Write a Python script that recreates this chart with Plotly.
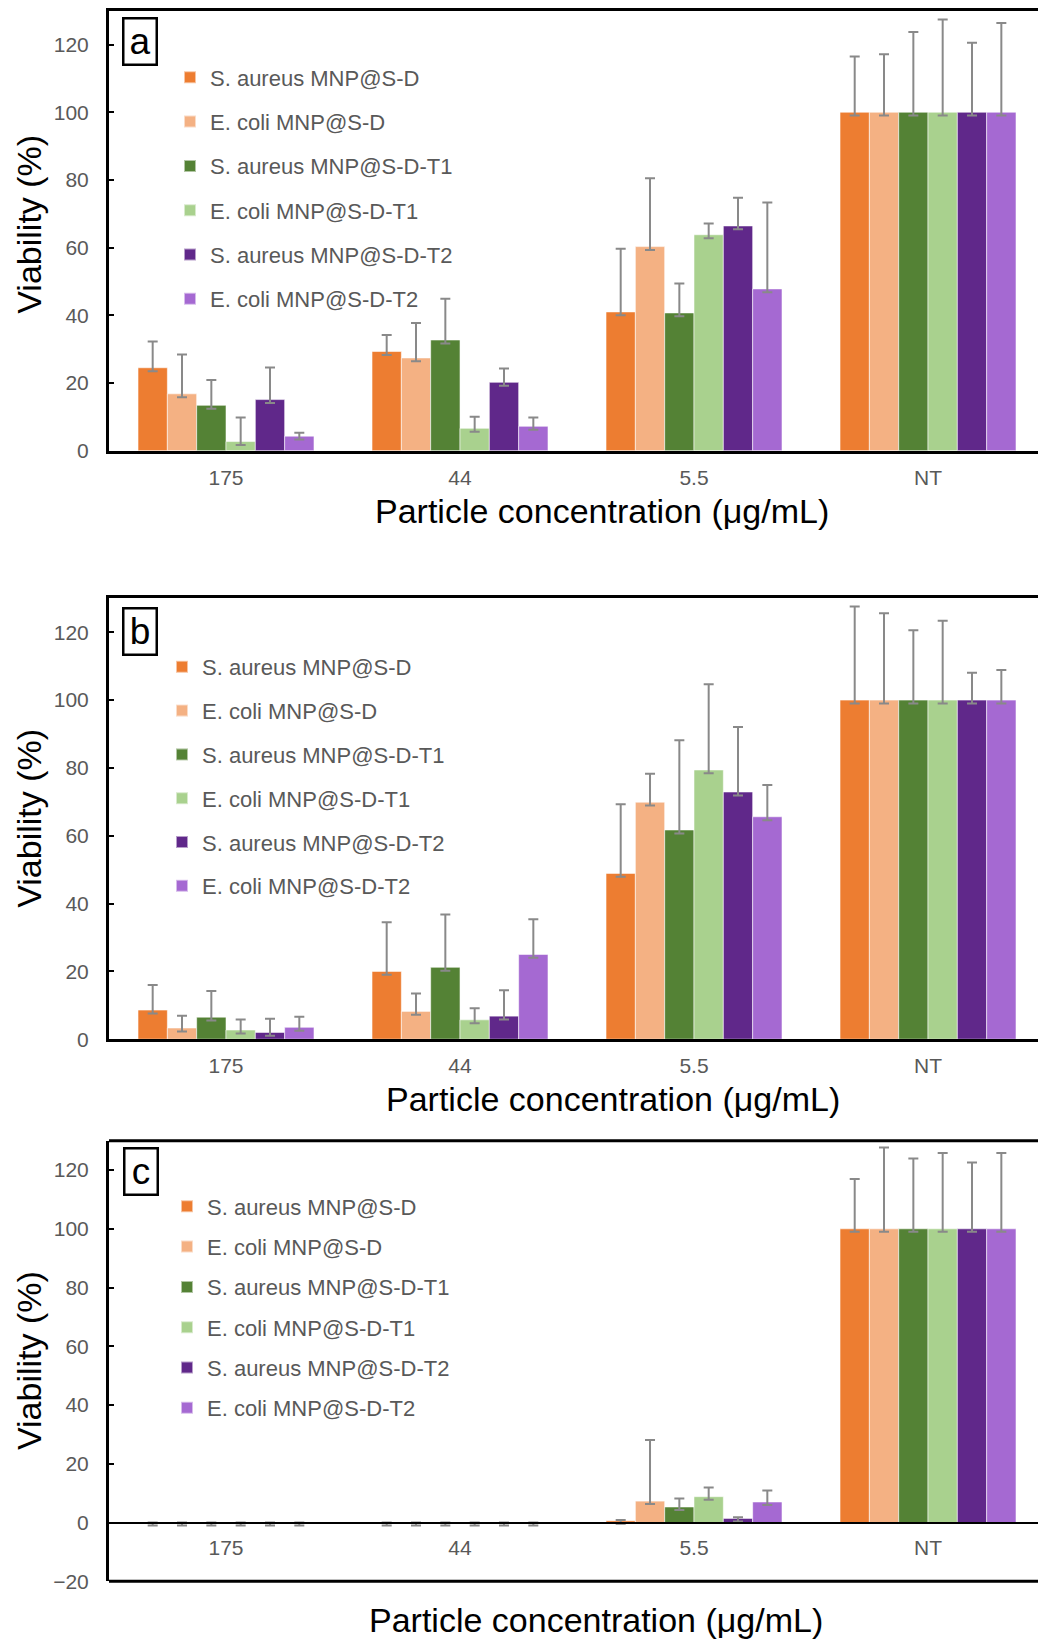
import plotly.graph_objects as go

categories = ["175", "44", "5.5", "NT"]
series_names = ["S. aureus MNP@S-D", "E. coli MNP@S-D", "S. aureus MNP@S-D-T1",
                "E. coli MNP@S-D-T1", "S. aureus MNP@S-D-T2", "E. coli MNP@S-D-T2"]
colors = ["#ED7D31", "#F4B183", "#548235", "#A9D18E", "#60288A", "#A569D2"]

# Panel a
a_values = [
    [24.5, 29.3, 41.0, 100],
    [16.8, 27.4, 60.3, 100],
    [13.4, 32.7, 40.7, 100],
    [2.7, 6.6, 63.8, 100],
    [15.1, 20.2, 66.4, 100],
    [4.3, 7.2, 47.8, 100],
]
a_err_plus = [
    [7.8, 4.9, 18.7, 16.5],
    [11.6, 10.3, 20.2, 17.1],
    [7.5, 12.2, 8.7, 23.7],
    [7.1, 3.4, 3.3, 27.4],
    [9.5, 4.1, 8.3, 20.5],
    [1.0, 2.6, 25.5, 26.4],
]
# Panel b
b_values = [
    [8.6, 20.0, 48.9, 100],
    [3.3, 8.2, 69.9, 100],
    [6.5, 21.2, 61.7, 100],
    [2.7, 5.7, 79.4, 100],
    [2.0, 6.8, 72.9, 100],
    [3.5, 25.0, 65.6, 100],
]
b_err_plus = [
    [7.4, 14.5, 20.4, 27.6],
    [3.6, 5.3, 8.4, 25.6],
    [7.7, 15.6, 26.5, 20.6],
    [3.1, 3.4, 25.3, 23.4],
    [4.0, 7.6, 19.2, 8.1],
    [3.1, 10.4, 9.4, 8.9],
]
# Panel c
c_values = [
    [0, 0, 0.6, 100],
    [0, 0, 7.3, 100],
    [0, 0, 5.3, 100],
    [0, 0, 8.8, 100],
    [0, 0, 1.4, 100],
    [0, 0, 7.0, 100],
]
c_err_plus = [
    [0, 0, 0.3, 17.0],
    [0, 0, 20.8, 27.7],
    [0, 0, 2.9, 23.9],
    [0, 0, 3.1, 25.8],
    [0, 0, 0.4, 22.6],
    [0, 0, 3.9, 25.8],
]
err_minus = [1.0, 1.0, 1.0, 1.0]

yticks_ab = [0, 20, 40, 60, 80, 100, 120]
yticks_c = [-20, 0, 20, 40, 60, 80, 100, 120]
panel_labels = ["a", "b", "c"]
x_title = "Particle concentration (μg/mL)"
y_title = "Viability (%)"

W, H = 1038, 1641
ML = 109
PW = W - ML
FONT = "Arial, Liberation Sans, sans-serif"
TICKC = "#595959"

def py(px):
    return 1 - px / H

def pxp(px):
    return (px - ML) / PW

fig = go.Figure()

panels = [
    (a_values, a_err_plus, "x", "y", "legend"),
    (b_values, b_err_plus, "x2", "y2", "legend2"),
    (c_values, c_err_plus, "x3", "y3", "legend3"),
]
for vals, errs, xa, ya, lg in panels:
    for i, name in enumerate(series_names):
        fig.add_trace(go.Bar(
            x=categories, y=vals[i], name=name, xaxis=xa, yaxis=ya, legend=lg,
            legendgroup=lg + str(i),
            marker=dict(color=colors[i], line=dict(color="rgba(255,255,255,0.55)", width=1)),
            error_y=dict(type="data", symmetric=False, array=errs[i], arrayminus=err_minus,
                         color="#898989", thickness=2, width=5),
        ))

dom_a = [py(450.7), py(10.7)]
dom_b = [py(1039.2), py(598.4)]
dom_c = [py(1581.3), py(1140.7)]
xr = [-0.5, 3.47]

yax = dict(showline=True, linewidth=3, linecolor="black", ticks="inside", ticklen=5,
           tickwidth=2, tickcolor="black", showgrid=False, zeroline=False, automargin=False,
           tickfont=dict(size=21, color=TICKC, family=FONT), ticklabelstandoff=13)
xax = dict(showline=True, linewidth=3, linecolor="black", ticks="", showgrid=False,
           automargin=False,
           tickfont=dict(size=21, color=TICKC, family=FONT), range=xr, domain=[0, 1],
           ticklabelstandoff=6)

zero_c = dom_c[0] + (20 / 150) * (dom_c[1] - dom_c[0])

fig.update_layout(
    width=W, height=H, margin=dict(l=ML, r=0, t=0, b=0, autoexpand=False),
    plot_bgcolor="white", paper_bgcolor="white",
    barmode="group", bargap=0.248, bargroupgap=0,
    font=dict(family=FONT),
    xaxis=dict(**xax, anchor="y", mirror=True),
    xaxis2=dict(**xax, anchor="y2", mirror=True),
    xaxis3=dict(**{**xax, "linewidth": 2}, anchor="free", position=zero_c),
    yaxis=dict(**yax, domain=dom_a, range=[0, 130], tickvals=yticks_ab, anchor="x"),
    yaxis2=dict(**yax, domain=dom_b, range=[0, 130], tickvals=yticks_ab, anchor="x2"),
    yaxis3=dict(**yax, domain=dom_c, range=[-20, 130], tickvals=yticks_c, anchor="x3"),
)

leg_common = dict(xanchor="left", yanchor="top", bgcolor="rgba(0,0,0,0)",
                  font=dict(size=22, color=TICKC, family=FONT), itemsizing="constant")
fig.update_layout(
    legend=dict(**leg_common, x=pxp(170), y=py(56.5), tracegroupgap=12.7),
    legend2=dict(**leg_common, x=pxp(162), y=py(646), tracegroupgap=12.2),
    legend3=dict(**leg_common, x=pxp(167), y=py(1185.5), tracegroupgap=8.7),
)

# frame lines for panel c
for yy in [0, 1]:
    fig.add_shape(type="line", xref="paper", yref="y3 domain", x0=0, x1=1, y0=yy, y1=yy,
                  line=dict(color="black", width=3))

# panel letters
box_tops = [16.7, 607.3, 1146.7]
box_lefts = [122, 121.7, 122.7]
for lab, top, left in zip(panel_labels, box_tops, box_lefts):
    fig.add_annotation(text=lab, xref="paper", yref="paper", x=pxp(left), y=py(top),
                       xanchor="left", yanchor="top", showarrow=False,
                       font=dict(size=37, color="black", family=FONT),
                       width=31, height=44, borderpad=0, bordercolor="black", borderwidth=2.5)

# axis titles
x_title_pos = [(602, 510.6), (613, 1098.7), (596, 1620)]
for (cx, cy) in x_title_pos:
    fig.add_annotation(text=x_title, xref="paper", yref="paper", x=pxp(cx), y=py(cy),
                       xanchor="center", yanchor="middle", showarrow=False,
                       font=dict(size=34, color="black", family=FONT))
for yd, ys in [("y domain", 6), ("y2 domain", 0), ("y3 domain", 0)]:
    fig.add_annotation(text=y_title, xref="paper", yref=yd, x=pxp(29), y=0.5, yshift=ys,
                       xanchor="center", yanchor="middle", textangle=-90, showarrow=False,
                       font=dict(size=34, color="black", family=FONT))

fig.write_html("out.html", config={"displayModeBar": False},
               post_script="document.body.style.margin='0';document.body.style.overflow='hidden';")
